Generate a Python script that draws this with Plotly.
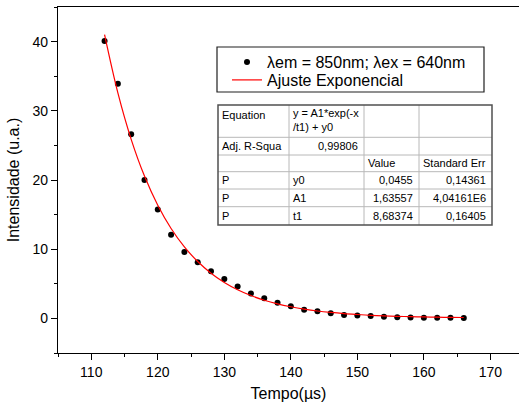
import plotly.graph_objects as go

# ---------------- data ----------------
tempo = [112, 114, 116, 118, 120, 122, 124, 126, 128, 130, 132, 134, 136, 138,
         140, 142, 144, 146, 148, 150, 152, 154, 156, 158, 160, 162, 164, 166]
intensidade = [40.1, 33.9, 26.6, 20.0, 15.75, 12.1, 9.6, 8.1, 6.8, 5.7, 4.6, 3.6,
               2.9, 2.25, 1.75, 1.24, 1.02, 0.75, 0.5, 0.43, 0.33, 0.23, 0.15,
               0.14, 0.1, 0.1, 0.1, 0.05]
ajuste = [41.0, 32.58, 25.88, 20.57, 16.35, 12.99, 10.33, 8.22, 6.53, 5.20, 4.14,
          3.30, 2.63, 2.10, 1.68, 1.34, 1.07, 0.86, 0.69, 0.56, 0.45, 0.37, 0.30,
          0.25, 0.21, 0.17, 0.15, 0.13]

legend_names = ["\u03bbem = 850nm; \u03bbex = 640nm", "Ajuste Exponencial"]

table_rows = [
    ["Equation", "y = A1*exp(-x<br>/t1) + y0", "", ""],
    ["Adj. R-Squa", "0,99806", "", ""],
    ["", "", "Value", "Standard Err"],
    ["P", "y0", "0,0455", "0,14361"],
    ["P", "A1", "1,63557", "4,04161E6"],
    ["P", "t1", "8,68374", "0,16405"],
]

FONT = "Arial, Liberation Sans, sans-serif"

# ---------------- geometry (pixels) ----------------
W, H = 519, 405
ML, MR, MT, MB = 58, 0, 7, 52
PW, PH = W - ML - MR, H - MT - MB


def px(x):
    return (x - ML) / PW


def py(y):
    return (H - MB - y) / PH


fig = go.Figure()
fig.add_trace(go.Scatter(
    x=tempo, y=intensidade, mode="markers", name=legend_names[0],
    marker=dict(color="black", size=6), legend="legend"))
fig.add_trace(go.Scatter(
    x=tempo, y=ajuste, mode="lines", name=legend_names[1],
    line=dict(color="#ff0000", width=1.2, shape="spline"), legend="legend2"))

shapes = []
# legend box
shapes.append(dict(type="rect", xref="paper", yref="paper",
                   x0=px(217), x1=px(484), y0=py(92), y1=py(47),
                   line=dict(color="#202020", width=1.2), fillcolor="white",
                   layer="below"))

# table
col_x = [218, 289, 364, 419, 492]
row_y = [105, 137.3, 155, 171.7, 189, 206.7, 225]
shapes.append(dict(type="rect", xref="paper", yref="paper",
                   x0=px(col_x[0]), x1=px(col_x[-1]), y0=py(row_y[-1]), y1=py(row_y[0]),
                   line=dict(width=0), fillcolor="white", layer="below"))
for yy in row_y[1:-1]:
    shapes.append(dict(type="line", xref="paper", yref="paper",
                       x0=px(col_x[0]), x1=px(col_x[-1]), y0=py(yy), y1=py(yy),
                       line=dict(color="#b8b8b8", width=1)))
for xx in col_x[1:-1]:
    shapes.append(dict(type="line", xref="paper", yref="paper",
                       x0=px(xx), x1=px(xx), y0=py(row_y[0]), y1=py(row_y[-1]),
                       line=dict(color="#b8b8b8", width=1)))
shapes.append(dict(type="rect", xref="paper", yref="paper",
                   x0=px(col_x[0]), x1=px(col_x[-1]), y0=py(row_y[-1]), y1=py(row_y[0]),
                   line=dict(color="#505050", width=1.5)))

annotations = []
right_cols = {(1, 1), (3, 2), (3, 3), (4, 2), (4, 3), (5, 2), (5, 3)}
for r, row in enumerate(table_rows):
    for c, txt in enumerate(row):
        if not txt:
            continue
        if r == 0:
            yc = 120 if c == 1 else 115
        else:
            yc = (row_y[r] + row_y[r + 1]) / 2
        if (r, c) in right_cols:
            xa, xx = "right", col_x[c + 1] - 4
        else:
            xa, xx = "left", col_x[c] + 2
        annotations.append(dict(
            text=txt, xref="paper", yref="paper", x=px(xx), y=py(yc),
            xanchor=xa, yanchor="middle", showarrow=False, align="left",
            font=dict(family=FONT, size=11, color="black")))

leg_common = dict(xanchor="left", yanchor="middle", bgcolor="rgba(0,0,0,0)",
                  borderwidth=0, font=dict(family=FONT, size=16, color="black"))

fig.update_layout(
    width=W, height=H,
    margin=dict(l=ML, r=MR, t=MT, b=MB, pad=0, autoexpand=False),
    paper_bgcolor="white", plot_bgcolor="white",
    font=dict(family=FONT, color="black"),
    showlegend=True,
    legend=dict(x=px(227), y=py(62), **leg_common),
    legend2=dict(x=px(227), y=py(80), **leg_common),
    shapes=shapes, annotations=annotations,
)
fig.update_xaxes(
    range=[105, 174.3], showgrid=False, zeroline=False, automargin=False,
    showline=True, linecolor="black", linewidth=1.2, mirror=True,
    ticks="outside", ticklen=6, tickwidth=1.2, tickcolor="black",
    tick0=110, dtick=10,
    minor=dict(ticks="outside", ticklen=3, tickwidth=1, tickcolor="black", dtick=5),
    tickfont=dict(family=FONT, size=14),
    title=dict(text="Tempo(\u00b5s)", font=dict(family=FONT, size=16), standoff=8),
)
fig.update_yaxes(
    range=[-5, 45], showgrid=False, zeroline=False, automargin=False,
    showline=True, linecolor="black", linewidth=1.2, mirror=False,
    ticks="outside", ticklen=6, tickwidth=1.2, tickcolor="black",
    tick0=0, dtick=10,
    minor=dict(ticks="outside", ticklen=3, tickwidth=1, tickcolor="black", dtick=5),
    tickfont=dict(family=FONT, size=14),
    title=dict(text="Intensidade (u.a.)", font=dict(family=FONT, size=16), standoff=8),
)

fig.write_html(
    "out.html",
    config={"displayModeBar": False},
    post_script="document.body.style.margin='0';document.body.style.overflow='hidden';",
)
